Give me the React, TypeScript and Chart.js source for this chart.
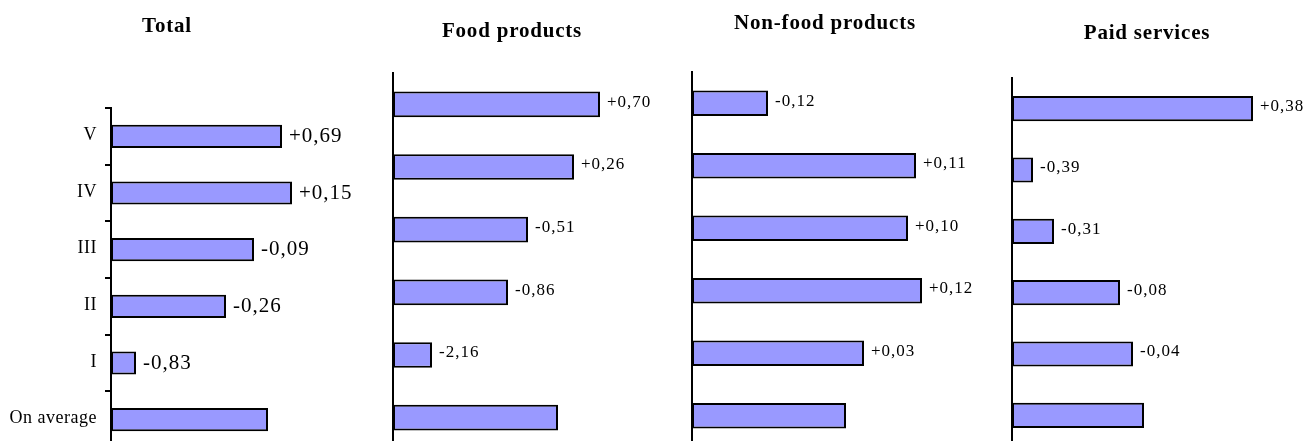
import React, { useEffect, useRef } from "react";
import { Chart, registerables } from "chart.js";

Chart.register(...registerables);

// Rows, top to bottom
const categories = ["V", "IV", "III", "II", "I", "On average"];

// Bar lengths per group
const totalValues = [1.71, 1.81, 1.43, 1.15, 0.25, 1.57];
const foodValues = [2.07, 1.81, 1.35, 1.15, 0.39, 1.65];
const nonFoodValues = [0.76, 2.24, 2.16, 2.3, 1.72, 1.54];
const paidValues = [2.41, 0.21, 0.42, 1.08, 1.21, 1.32];

// Change annotations printed at the end of each bar
const totalChanges = ["+0,69", "+0,15", "-0,09", "-0,26", "-0,83", ""];
const foodChanges = ["+0,70", "+0,26", "-0,51", "-0,86", "-2,16", ""];
const nonFoodChanges = ["-0,12", "+0,11", "+0,10", "+0,12", "+0,03", ""];
const paidChanges = ["+0,38", "-0,39", "-0,31", "-0,08", "-0,04", ""];

const titles = ["Total", "Food products", "Non-food products", "Paid services"];

const SERIF = '"Liberation Serif", "Times New Roman", serif';
const BAR_FILL = "#9999FF";
const X_MAX = 2.7;

type PanelSpec = {
  title: string;
  values: number[];
  changes: string[];
  axisX: number; // x of the value axis line on the page
  axisWidth: number; // width reserved for the category axis
  plotTop: number;
  plotBottom: number;
  showCategories: boolean;
  labelSize: number;
  labelDy: number;
  axisLine: number;
  padRight: number;
  titleX: number;
  titleY: number;
};

const panels: PanelSpec[] = [
  {
    title: titles[0], values: totalValues, changes: totalChanges,
    axisX: 111, axisWidth: 111, plotTop: 108, plotBottom: 448,
    showCategories: true, labelSize: 21, labelDy: 0, axisLine: 2, padRight: 10,
    titleX: 167, titleY: 25,
  },
  {
    title: titles[1], values: foodValues, changes: foodChanges,
    axisX: 393, axisWidth: 10, plotTop: 73, plotBottom: 449,
    showCategories: false, labelSize: 17, labelDy: -2, axisLine: 2, padRight: 10,
    titleX: 512, titleY: 30,
  },
  {
    title: titles[2], values: nonFoodValues, changes: nonFoodChanges,
    axisX: 692, axisWidth: 10, plotTop: 72, plotBottom: 447,
    showCategories: false, labelSize: 17, labelDy: -2, axisLine: 2, padRight: 10,
    titleX: 825, titleY: 22,
  },
  {
    title: titles[3], values: paidValues, changes: paidChanges,
    axisX: 1012, axisWidth: 10, plotTop: 78, plotBottom: 446,
    showCategories: false, labelSize: 17, labelDy: -2, axisLine: 2, padRight: 23,
    titleX: 1147, titleY: 32,
  },
];

// Prints the change text just past the end of each bar
const changeLabels = {
  id: "changeLabels",
  afterDatasetsDraw(chart: any, _args: any, opts: any) {
    const { ctx } = chart;
    const meta = chart.getDatasetMeta(0);
    ctx.save();
    ctx.font = `${opts.size}px ${SERIF}`;
    ctx.fillStyle = "#000";
    ctx.textAlign = "left";
    ctx.textBaseline = "middle";
    (ctx as any).letterSpacing = "1px";
    meta.data.forEach((bar: any, i: number) => {
      const text = opts.labels[i];
      if (!text) return;
      ctx.fillText(text, bar.x + opts.gap, bar.y + opts.dy);
    });
    ctx.restore();
  },
};

// Slightly wider spacing for the category names
const tickSpacing = {
  id: "tickSpacing",
  beforeDraw(chart: any) {
    (chart.ctx as any).letterSpacing = "0.5px";
  },
};

function Panel({ spec }: { spec: PanelSpec }) {
  const ref = useRef<HTMLCanvasElement>(null);
  const left = spec.axisX - spec.axisWidth;
  const width = spec.axisWidth + 270 + spec.padRight;
  const height = spec.plotBottom + 20;

  useEffect(() => {
    const chart = new Chart(ref.current as HTMLCanvasElement, {
      type: "bar",
      data: {
        labels: categories,
        datasets: [
          {
            data: spec.values,
            backgroundColor: BAR_FILL,
            borderColor: "#000",
            borderWidth: 2,
            borderSkipped: false,
            barPercentage: 0.41,
            categoryPercentage: 1,
          },
        ],
      },
      options: {
        indexAxis: "y",
        animation: false,
        responsive: false,
        maintainAspectRatio: false,
        layout: {
          padding: { top: spec.plotTop, bottom: 20, left: 0, right: spec.padRight },
        },
        plugins: {
          legend: { display: false },
          title: { display: false },
          tooltip: { enabled: false },
          changeLabels: {
            labels: spec.changes,
            size: spec.labelSize,
            gap: 7,
            dy: spec.labelDy,
          },
        } as any,
        scales: {
          x: { display: false, min: 0, max: X_MAX },
          y: {
            display: true,
            offset: true,
            afterFit: (scale: any) => {
              scale.width = spec.axisWidth;
            },
            border: { display: true, color: "#000", width: spec.axisLine },
            grid: {
              display: spec.showCategories,
              drawOnChartArea: false,
              drawTicks: true,
              tickLength: 6,
              color: "#000",
              lineWidth: 2,
              offset: true,
            },
            ticks: {
              display: spec.showCategories,
              color: "#000",
              padding: 8,
              labelOffset: -1,
              font: { family: SERIF, size: 18 },
            },
          },
        },
      },
      plugins: [changeLabels, tickSpacing],
    } as any);
    return () => chart.destroy();
  }, [spec]);

  return (
    <canvas
      ref={ref}
      width={width}
      height={height}
      style={{ position: "absolute", left, top: 0, width, height }}
    />
  );
}

export default function App() {
  return (
    <div
      style={{
        position: "absolute",
        left: 0,
        top: 0,
        width: 1305,
        height: 441,
        overflow: "hidden",
        background: "#fff",
      }}
    >
      {panels.map((p) => (
        <Panel key={p.title} spec={p} />
      ))}
      {panels.map((p) => (
        <div
          key={"t-" + p.title}
          style={{
            position: "absolute",
            left: p.titleX,
            top: p.titleY,
            transform: "translate(-50%, -50%)",
            whiteSpace: "nowrap",
            fontFamily: SERIF,
            fontWeight: "bold",
            fontSize: 21,
            lineHeight: "21px",
            letterSpacing: "0.8px",
            color: "#000",
          }}
        >
          {p.title}
        </div>
      ))}
    </div>
  );
}
